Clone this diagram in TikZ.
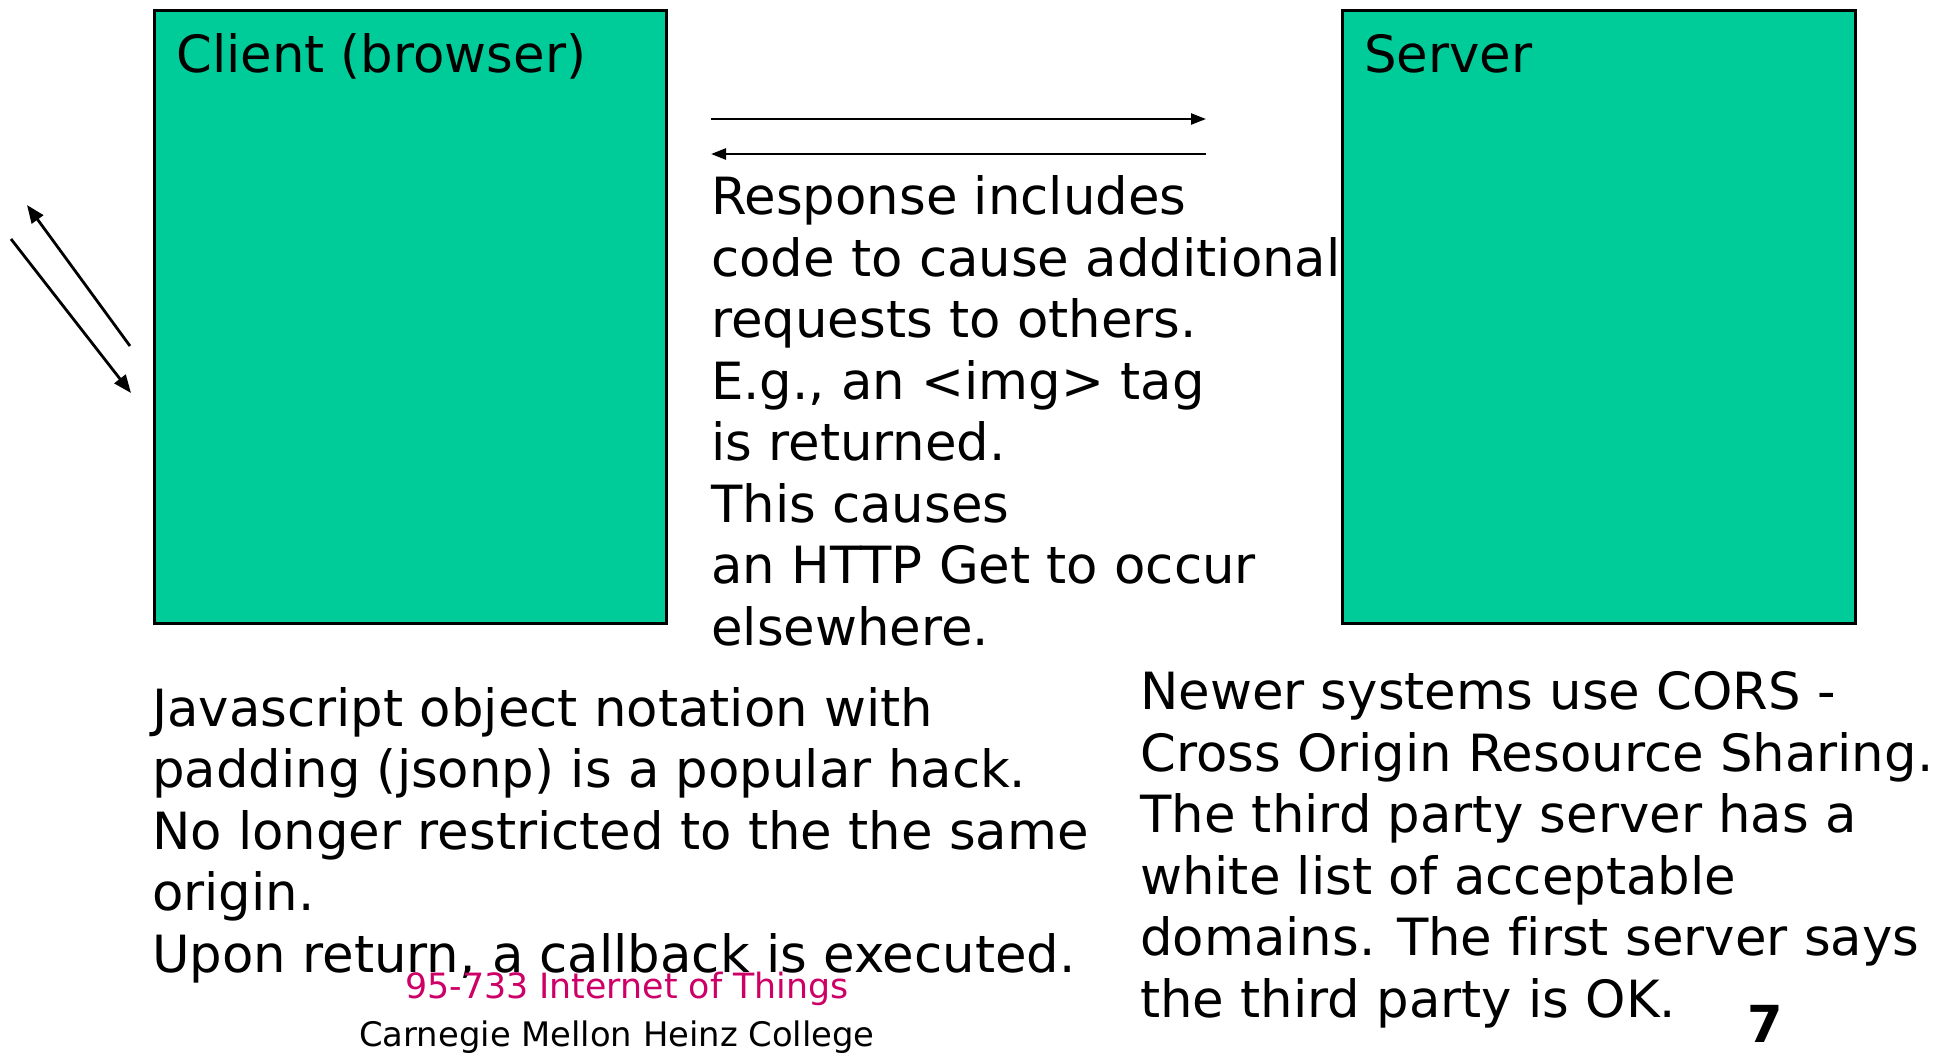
\documentclass[tikz,border=0pt]{standalone}
\usepackage{fontspec}
\setmainfont[Ligatures=NoCommon]{DejaVu Sans}
\usetikzlibrary{arrows.meta}
\definecolor{boxgreen}{RGB}{0,204,153}
\definecolor{footpink}{RGB}{204,0,102}
\tikzset{
  greenbox/.style={draw=black, line width=3pt, fill=boxgreen},
  bodytext/.style={anchor=base west, align=left, inner sep=0pt, font=\fontsize{51.3}{61.5}\selectfont},
  conn/.style={line width=2.5pt, -{Triangle[length=15pt,width=11pt]}},
  diagconn/.style={line width=2.8pt, -{Triangle[length=18pt,width=14pt]}},
}
\begin{document}
\begin{tikzpicture}[x=1pt,y=-1pt]
\useasboundingbox (0,0) rectangle (1949,1055);
% boxes
\draw[greenbox] (154,10) rectangle (666,623);
\draw[greenbox] (1342,10) rectangle (1855,623);
\node[bodytext] (clientlbl) at (176,72) {Client (browser)};
\node[bodytext] (serverlbl) at (1364,72) {Server};
% horizontal arrows
\coordinate (ra1) at (711,119);
\coordinate (ra2) at (1206,119);
\coordinate (la1) at (1206,154);
\coordinate (la2) at (711,154);
\draw[conn] (ra1) -- (ra2);
\draw[conn] (la1) -- (la2);
% diagonal arrows
\coordinate (d1s) at (130,346);
\coordinate (d1e) at (27,205);
\coordinate (d2s) at (11,239);
\coordinate (d2e) at (131,393);
\draw[diagconn] (d1s) -- (d1e);
\draw[diagconn] (d2s) -- (d2e);
% middle text (anchored at the baseline of its last line)
\node[bodytext] (midtext) at (711,645) {Response includes\\code to cause additional\\requests to others.\\E.g., an <img> tag\\is returned.\\This causes\\an HTTP Get to occur\\elsewhere.};
% bottom left
\node[bodytext] (jsonp) at (152,972) {Javascript object notation with\\padding (jsonp) is a popular hack.\\No longer restricted to the the same\\origin.\\Upon return, a callback is executed.};
% right
\node[bodytext] (cors) at (1140,1017) {Newer systems use CORS -\\Cross Origin Resource Sharing.\\The third party server has a\\white list of acceptable\\domains. The first server says\\the third party is OK.};
% footer
\node[anchor=base, inner sep=0pt, text=footpink, font=\fontsize{34.8}{40}\selectfont] (course) at (627,998) {95-733 Internet of Things};
\node[anchor=base, inner sep=0pt, font=\fontsize{33.8}{40}\selectfont] (college) at (617,1046) {Carnegie Mellon Heinz College};
\node[anchor=base, inner sep=0pt, font=\fontsize{51}{60}\selectfont\bfseries] (pagenum) at (1765,1042) {7};
\end{tikzpicture}
\end{document}
